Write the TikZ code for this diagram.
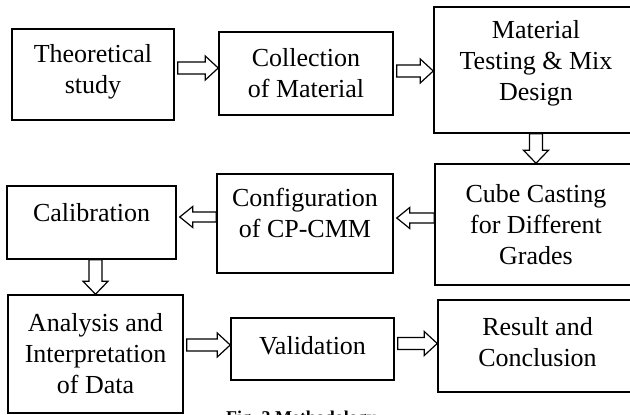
\documentclass[tikz,border=0pt]{standalone}
\usepackage{fontspec}
\setmainfont{Liberation Serif}
\usetikzlibrary{calc}

% hollow block arrows between two named nodes, optional vertical shift
\newcommand{\rarrow}[3][0]{%
  \draw[blockarrow] let \p1=(#2.east), \p2=(#3.west) in
    (\x1+3pt,\y1+#1pt+6pt) -- (\x2-13pt,\y1+#1pt+6pt) -- (\x2-13pt,\y1+#1pt+12pt)
    -- (\x2,\y1+#1pt) -- (\x2-13pt,\y1+#1pt-12pt) -- (\x2-13pt,\y1+#1pt-6pt)
    -- (\x1+3pt,\y1+#1pt-6pt) -- cycle;}
\newcommand{\larrow}[3][0]{%
  \draw[blockarrow] let \p1=(#2.west), \p2=(#3.east) in
    (\x1,\y1+#1pt+5pt) -- (\x2+16pt,\y1+#1pt+5pt) -- (\x2+16pt,\y1+#1pt+10.5pt)
    -- (\x2+3pt,\y1+#1pt) -- (\x2+16pt,\y1+#1pt-10.5pt) -- (\x2+16pt,\y1+#1pt-5pt)
    -- (\x1,\y1+#1pt-5pt) -- cycle;}
\newcommand{\darrow}[2]{%
  \draw[blockarrow] let \p1=(#1.south), \p2=(#2.north) in
    (\x2-6.5pt,\y1) -- (\x2-6.5pt,\y2+13pt) -- (\x2-12.5pt,\y2+13pt)
    -- (\x2,\y2) -- (\x2+12.5pt,\y2+13pt) -- (\x2+6.5pt,\y2+13pt)
    -- (\x2+6.5pt,\y1) -- cycle;}

\begin{document}
\begin{tikzpicture}[x=1pt, y=1pt]
    \tikzstyle{stage} = [draw, line width=1.5pt, align=center, inner sep=0pt, font=\fontsize{26}{31}\selectfont]
    \tikzstyle{blockarrow} = [draw, line width=1.2pt, fill=white, line join=miter]
    \tikzstyle{lift} = [text depth=#1]

    \useasboundingbox (0,0) rectangle (630,415);
    \clip (0,0) rectangle (630,415);

    \node[stage, lift=12pt, minimum width=162, minimum height=91] (theory) at (93, 340.5) {Theoretical\\study};
    \node[stage, minimum width=174, minimum height=83] (collect) at (306, 341.5) {Collection\\of Material};
    \node[stage, lift=19pt, minimum width=204, minimum height=126] (testing) at (536, 345) {Material\\Testing \& Mix\\Design};
    \node[stage, minimum width=202, minimum height=121] (casting) at (536, 190.5) {Cube Casting\\for Different\\Grades};
    \node[stage, lift=22pt, minimum width=176, minimum height=99] (config) at (305, 191.5) {Configuration\\of CP-CMM};
    \node[stage, lift=20pt, minimum width=169, minimum height=73] (calib) at (91.5, 192.5) {Calibration};
    \node[stage, minimum width=175, minimum height=118] (analysis) at (95.5, 61) {Analysis and\\Interpretation\\of Data};
    \node[stage, lift=8pt, minimum width=163, minimum height=62] (valid) at (312.5, 66) {Validation};
    \node[stage, lift=9pt, minimum width=199, minimum height=92] (result) at (537.5, 69) {Result and\\Conclusion};

    \node[anchor=base, font=\fontsize{18}{22}\selectfont\bfseries] (caption) at (301, -9) {Fig. 3 Methodology};

    \rarrow[6.5]{theory}{collect}
    \rarrow[2.5]{collect}{testing}
    \darrow{testing}{casting}
    \larrow[6.5]{casting}{config}
    \larrow[6.5]{config}{calib}
    \darrow{calib}{analysis}
    \rarrow[9]{analysis}{valid}
    \rarrow[5.5]{valid}{result}
\end{tikzpicture}
\end{document}
